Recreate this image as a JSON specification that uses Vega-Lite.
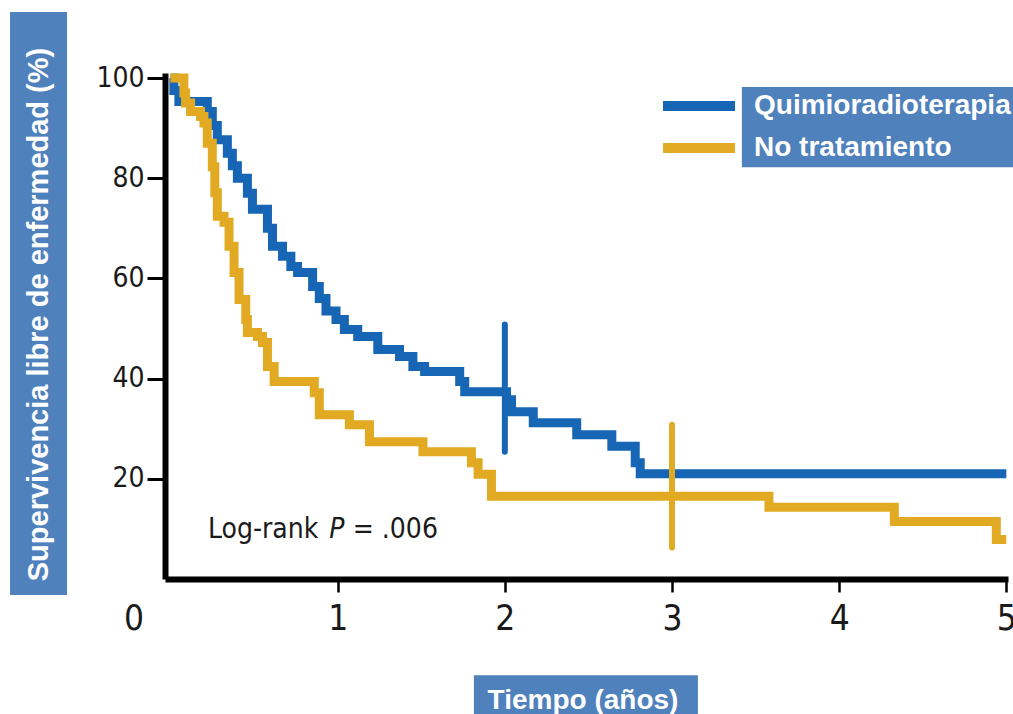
{
  "$schema": "https://vega.github.io/schema/vega-lite/v6.json",
  "width": 843,
  "height": 506,
  "autosize": {"type": "none"},
  "padding": {"left": 165, "top": 73, "right": 5, "bottom": 135},
  "background": "white",
  "config": {"view": {"stroke": null}},
  "data": {"values": [{}]},
  "datasets": {
    "curves": [
      {"series": "Quimioradioterapia", "t": 0.0, "s": 100},
      {"series": "Quimioradioterapia", "t": 0.02, "s": 97.5},
      {"series": "Quimioradioterapia", "t": 0.05, "s": 95.3},
      {"series": "Quimioradioterapia", "t": 0.22, "s": 93.3},
      {"series": "Quimioradioterapia", "t": 0.25, "s": 90.5},
      {"series": "Quimioradioterapia", "t": 0.28, "s": 87.7},
      {"series": "Quimioradioterapia", "t": 0.34, "s": 85},
      {"series": "Quimioradioterapia", "t": 0.37, "s": 82.5},
      {"series": "Quimioradioterapia", "t": 0.40, "s": 80},
      {"series": "Quimioradioterapia", "t": 0.46, "s": 77},
      {"series": "Quimioradioterapia", "t": 0.49, "s": 73.8},
      {"series": "Quimioradioterapia", "t": 0.58, "s": 70},
      {"series": "Quimioradioterapia", "t": 0.61, "s": 66.4},
      {"series": "Quimioradioterapia", "t": 0.67, "s": 64.4},
      {"series": "Quimioradioterapia", "t": 0.72, "s": 62.4},
      {"series": "Quimioradioterapia", "t": 0.76, "s": 61.2},
      {"series": "Quimioradioterapia", "t": 0.85, "s": 58.4},
      {"series": "Quimioradioterapia", "t": 0.89, "s": 56},
      {"series": "Quimioradioterapia", "t": 0.93, "s": 53.5},
      {"series": "Quimioradioterapia", "t": 0.99, "s": 51.8},
      {"series": "Quimioradioterapia", "t": 1.04, "s": 49.8},
      {"series": "Quimioradioterapia", "t": 1.12, "s": 48.4},
      {"series": "Quimioradioterapia", "t": 1.24, "s": 45.8},
      {"series": "Quimioradioterapia", "t": 1.37, "s": 44.4},
      {"series": "Quimioradioterapia", "t": 1.45, "s": 42.4},
      {"series": "Quimioradioterapia", "t": 1.52, "s": 41.4},
      {"series": "Quimioradioterapia", "t": 1.73, "s": 39.4},
      {"series": "Quimioradioterapia", "t": 1.76, "s": 37.4},
      {"series": "Quimioradioterapia", "t": 2.01, "s": 35.8},
      {"series": "Quimioradioterapia", "t": 2.04, "s": 33.4},
      {"series": "Quimioradioterapia", "t": 2.17, "s": 31.2},
      {"series": "Quimioradioterapia", "t": 2.43, "s": 28.8},
      {"series": "Quimioradioterapia", "t": 2.64, "s": 26.5},
      {"series": "Quimioradioterapia", "t": 2.78, "s": 23.2},
      {"series": "Quimioradioterapia", "t": 2.81, "s": 21.0},
      {"series": "Quimioradioterapia", "t": 5.0, "s": 21.0},
      {"series": "No tratamiento", "t": 0.0, "s": 100},
      {"series": "No tratamiento", "t": 0.08, "s": 97},
      {"series": "No tratamiento", "t": 0.09, "s": 95},
      {"series": "No tratamiento", "t": 0.12, "s": 93.3},
      {"series": "No tratamiento", "t": 0.18, "s": 92.3},
      {"series": "No tratamiento", "t": 0.20, "s": 91},
      {"series": "No tratamiento", "t": 0.22, "s": 87},
      {"series": "No tratamiento", "t": 0.25, "s": 82.3},
      {"series": "No tratamiento", "t": 0.265, "s": 77.1},
      {"series": "No tratamiento", "t": 0.28, "s": 72.4},
      {"series": "No tratamiento", "t": 0.32, "s": 71.2},
      {"series": "No tratamiento", "t": 0.35, "s": 66.4},
      {"series": "No tratamiento", "t": 0.38, "s": 61.2},
      {"series": "No tratamiento", "t": 0.41, "s": 55.8},
      {"series": "No tratamiento", "t": 0.45, "s": 51.8},
      {"series": "No tratamiento", "t": 0.46, "s": 49.2},
      {"series": "No tratamiento", "t": 0.52, "s": 48.4},
      {"series": "No tratamiento", "t": 0.55, "s": 47.2},
      {"series": "No tratamiento", "t": 0.58, "s": 42.4},
      {"series": "No tratamiento", "t": 0.62, "s": 39.4},
      {"series": "No tratamiento", "t": 0.86, "s": 37.2},
      {"series": "No tratamiento", "t": 0.89, "s": 32.8},
      {"series": "No tratamiento", "t": 1.07, "s": 30.8},
      {"series": "No tratamiento", "t": 1.19, "s": 27.4},
      {"series": "No tratamiento", "t": 1.51, "s": 25.4},
      {"series": "No tratamiento", "t": 1.80, "s": 23.2},
      {"series": "No tratamiento", "t": 1.84, "s": 20.9},
      {"series": "No tratamiento", "t": 1.92, "s": 16.5},
      {"series": "No tratamiento", "t": 3.58, "s": 14.3},
      {"series": "No tratamiento", "t": 4.33, "s": 11.5},
      {"series": "No tratamiento", "t": 4.94, "s": 7.9},
      {"series": "No tratamiento", "t": 5.0, "s": 7.9}
    ],
    "ticksmarks": [
      {"series": "Quimioradioterapia", "t": 2.0, "lo": 25.4, "hi": 50.8},
      {"series": "No tratamiento", "t": 3.0, "lo": 6.3, "hi": 30.8}
    ]
  },
  "layer": [
    {
      "mark": {"type": "rect", "color": "#4f81bd"},
      "encoding": {
        "x": {"datum": -0.96, "type": "quantitative", "scale": {"domain": [-0.033, 5.01], "nice": false, "zero": false}},
        "x2": {"datum": -0.619},
        "y": {"datum": 113.2, "type": "quantitative", "scale": {"domain": [0, 101], "nice": false, "zero": false}},
        "y2": {"datum": -3.2}
      }
    },
    {
      "mark": {"type": "rect", "color": "#4f81bd"},
      "encoding": {
        "x": {"datum": 3.418, "type": "quantitative", "scale": {"domain": [-0.033, 5.01], "nice": false, "zero": false}},
        "x2": {"datum": 5.04},
        "y": {"datum": 98.2, "type": "quantitative", "scale": {"domain": [0, 101], "nice": false, "zero": false}},
        "y2": {"datum": 82.2}
      }
    },
    {
      "mark": {"type": "rect", "color": "#4f81bd"},
      "encoding": {
        "x": {"datum": 1.815, "type": "quantitative", "scale": {"domain": [-0.033, 5.01], "nice": false, "zero": false}},
        "x2": {"datum": 3.155},
        "y": {"datum": -19.2, "type": "quantitative", "scale": {"domain": [0, 101], "nice": false, "zero": false}},
        "y2": {"datum": -28}
      }
    },
    {
      "data": {"name": "curves"},
      "mark": {"type": "line", "interpolate": "step-after", "strokeWidth": 9},
      "encoding": {
        "x": {
          "field": "t", "type": "quantitative",
          "scale": {"domain": [-0.033, 5.01], "nice": false, "zero": false},
          "axis": {
            "values": [0, 1, 2, 3, 4, 5],
            "format": "d",
            "title": "Tiempo (años)",
            "titleFont": "Liberation Sans", "titleFontSize": 28, "titleFontWeight": "bold", "titleColor": "white",
            "titleX": 417.5, "titleY": 129, "titleAlign": "center", "titleBaseline": "alphabetic",
            "domainColor": "black", "domainWidth": 6,
            "tickColor": "black", "tickWidth": 2.5, "tickSize": 13,
            "tickOpacity": {"condition": {"test": "datum.value == 0", "value": 0}, "value": 1},
            "labelOffset": {"condition": {"test": "datum.value == 0", "value": -37}, "value": 0},
            "labelFont": "DejaVu Sans Condensed, sans-serif", "labelFontSize": 35, "labelColor": "#1a1a1a",
            "labelPadding": 9, "grid": false, "zindex": 1
          }
        },
        "y": {
          "field": "s", "type": "quantitative",
          "scale": {"domain": [0, 101], "nice": false, "zero": false},
          "axis": {
            "values": [20, 40, 60, 80, 100],
            "title": "Supervivencia libre de enfermedad (%)",
            "titleFont": "Liberation Sans", "titleFontSize": 29, "titleFontWeight": "bold", "titleColor": "white",
            "titleX": -126.5, "titleY": 241, "titleAlign": "center", "titleBaseline": "middle", "titleAngle": 270,
            "domainColor": "black", "domainWidth": 6,
            "tickColor": "black", "tickWidth": 3, "tickSize": 18,
            "labelFont": "DejaVu Sans Condensed, sans-serif", "labelFontSize": 28, "labelColor": "#1a1a1a",
            "labelPadding": 3, "grid": false, "zindex": 1
          }
        },
        "color": {
          "field": "series", "type": "nominal",
          "scale": {"domain": ["Quimioradioterapia", "No tratamiento"], "range": ["#1666b5", "#e2aa22"]},
          "legend": {
            "orient": "none", "legendX": 520, "legendY": 19, "title": null,
            "symbolType": "M-4,0H4", "symbolSize": 324, "symbolStrokeWidth": 10,
            "labelFont": "Liberation Sans", "labelFontSize": 28, "labelFontWeight": "bold", "labelColor": "white",
            "labelOffset": 41, "rowPadding": 2, "padding": 0, "labelLimit": 400
          }
        }
      }
    },
    {
      "data": {"name": "ticksmarks"},
      "mark": {"type": "rule", "strokeWidth": 6, "strokeCap": "round"},
      "encoding": {
        "x": {"field": "t", "type": "quantitative", "scale": {"domain": [-0.033, 5.01], "nice": false, "zero": false}},
        "y": {"field": "lo", "type": "quantitative", "scale": {"domain": [0, 101], "nice": false, "zero": false}},
        "y2": {"field": "hi"},
        "color": {"field": "series", "type": "nominal", "legend": null}
      }
    },
    {
      "mark": {"type": "text", "font": "DejaVu Sans Condensed, sans-serif", "fontSize": 28, "color": "#1a1a1a", "align": "left", "baseline": "alphabetic"},
      "encoding": {
        "x": {"datum": 0.224, "type": "quantitative", "scale": {"domain": [-0.033, 5.01], "nice": false, "zero": false}},
        "y": {"datum": 8.2, "type": "quantitative", "scale": {"domain": [0, 101], "nice": false, "zero": false}},
        "text": {"value": "Log-rank"}
      }
    },
    {
      "mark": {"type": "text", "font": "DejaVu Sans Condensed, sans-serif", "fontSize": 28, "fontStyle": "italic", "color": "#1a1a1a", "align": "left", "baseline": "alphabetic"},
      "encoding": {
        "x": {"datum": 0.95, "type": "quantitative", "scale": {"domain": [-0.033, 5.01], "nice": false, "zero": false}},
        "y": {"datum": 8.2, "type": "quantitative", "scale": {"domain": [0, 101], "nice": false, "zero": false}},
        "text": {"value": "P"}
      }
    },
    {
      "mark": {"type": "text", "font": "DejaVu Sans Condensed, sans-serif", "fontSize": 28, "color": "#1a1a1a", "align": "left", "baseline": "alphabetic"},
      "encoding": {
        "x": {"datum": 1.09, "type": "quantitative", "scale": {"domain": [-0.033, 5.01], "nice": false, "zero": false}},
        "y": {"datum": 8.2, "type": "quantitative", "scale": {"domain": [0, 101], "nice": false, "zero": false}},
        "text": {"value": "= .006"}
      }
    }
  ]
}
